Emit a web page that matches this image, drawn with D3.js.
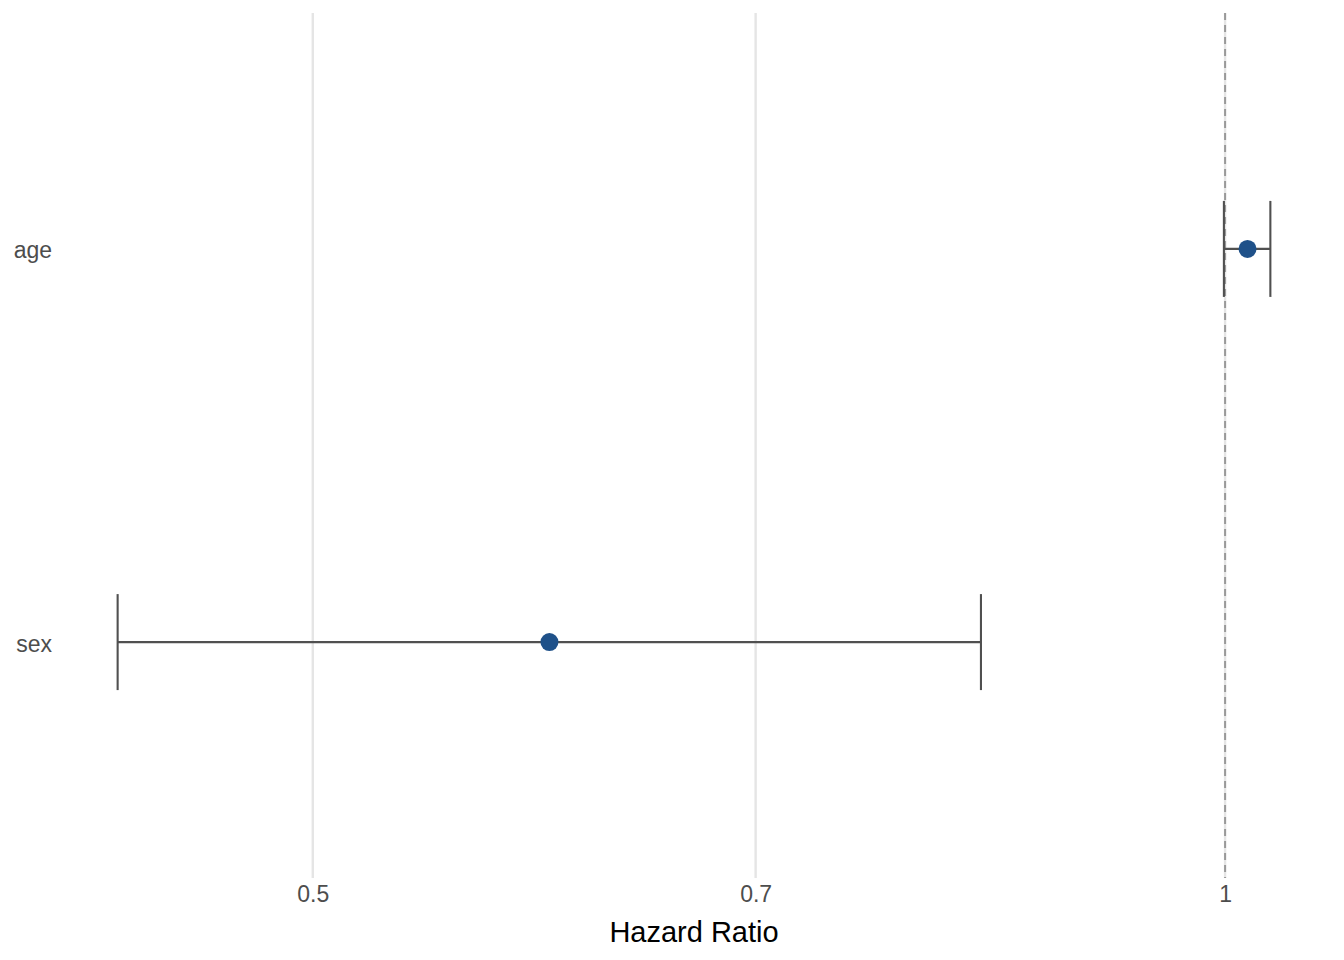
<!DOCTYPE html>
<html><head><meta charset="utf-8">
<script src="https://cdn.jsdelivr.net/npm/d3@7"></script>
<style>body{margin:0;background:#fff}svg{display:block;font-family:"Liberation Sans",Arial,Helvetica,sans-serif}</style>
</head><body>
<script>
const terms = ["age", "sex"];
const hr = [1.0172, 0.5985];
const lower = [0.9991, 0.4311];
const upper = [1.0350, 0.8307];
const tickValues = [0.5, 0.7, 1];
const tickLabels = ["0.5", "0.7", "1"];
const xTitle = "Hazard Ratio";

(function () {
const W = 1344, H = 960;
const svg = d3.select("body").append("svg").attr("width", W).attr("height", H);
const pLeft = 60, pRight = 1328, pTop = 13, pBottom = 878;

const lmin = Math.log(d3.min(lower)), lmax = Math.log(d3.max(upper));
const ex = (lmax - lmin) * 0.05;
const x = d3.scaleLog().domain([Math.exp(lmin - ex), Math.exp(lmax + ex)]).range([pLeft, pRight]);
const y = d3.scalePoint().domain(terms).range([pTop, pBottom]).padding(0.6);

// grid
svg.append("g").selectAll("line").data(tickValues).join("line")
  .attr("x1", d => x(d)).attr("x2", d => x(d)).attr("y1", pTop).attr("y2", pBottom)
  .attr("stroke", "#e5e5e5").attr("stroke-width", 2.4);

// reference line
svg.append("line").attr("x1", x(1)).attr("x2", x(1)).attr("y1", pTop).attr("y2", pBottom)
  .attr("stroke", "#999999").attr("stroke-width", 2).attr("stroke-dasharray", "7,5");

const rows = terms.map((t, i) => ({t, hr: hr[i], lo: lower[i], hi: upper[i]}));
const g = svg.append("g");
const cap = 48;
rows.forEach(r => {
  const yy = y(r.t);
  g.append("line").attr("x1", x(r.lo)).attr("x2", x(r.hi)).attr("y1", yy).attr("y2", yy)
    .attr("stroke", "#505050").attr("stroke-width", 2.1);
  [r.lo, r.hi].forEach(v => g.append("line").attr("x1", x(v)).attr("x2", x(v))
    .attr("y1", yy - cap).attr("y2", yy + cap).attr("stroke", "#505050").attr("stroke-width", 2.1));
  g.append("circle").attr("cx", x(r.hr)).attr("cy", yy).attr("r", 9).attr("fill", "#1f5189");
});

// axes text
const xa = d3.axisBottom(x).tickValues(tickValues).tickFormat((d, i) => tickLabels[i]).tickSize(0).tickPadding(0);
const ax = svg.append("g").attr("transform", `translate(0,${pBottom})`).call(xa);
ax.attr("font-size", null).attr("font-family", null);
ax.select(".domain").remove();
ax.selectAll("text").attr("y", 24).attr("dy", 0).attr("fill", "#4d4d4d")
  .style("font-size", "23px");

const ya = d3.axisLeft(y).tickSize(0).tickPadding(0);
const ay = svg.append("g").attr("transform", `translate(52,0)`).call(ya);
ay.attr("font-size", null).attr("font-family", null);
ay.select(".domain").remove();
ay.selectAll("text").attr("x", 0).attr("dy", 0).attr("y", 9).attr("fill", "#4d4d4d")
  .style("font-size", "23px");

svg.append("text").attr("x", (pLeft + pRight) / 2).attr("y", 942).attr("text-anchor", "middle")
  .style("font-size", "29px").attr("fill", "#000").text(xTitle);
})();
</script>
</body></html>
